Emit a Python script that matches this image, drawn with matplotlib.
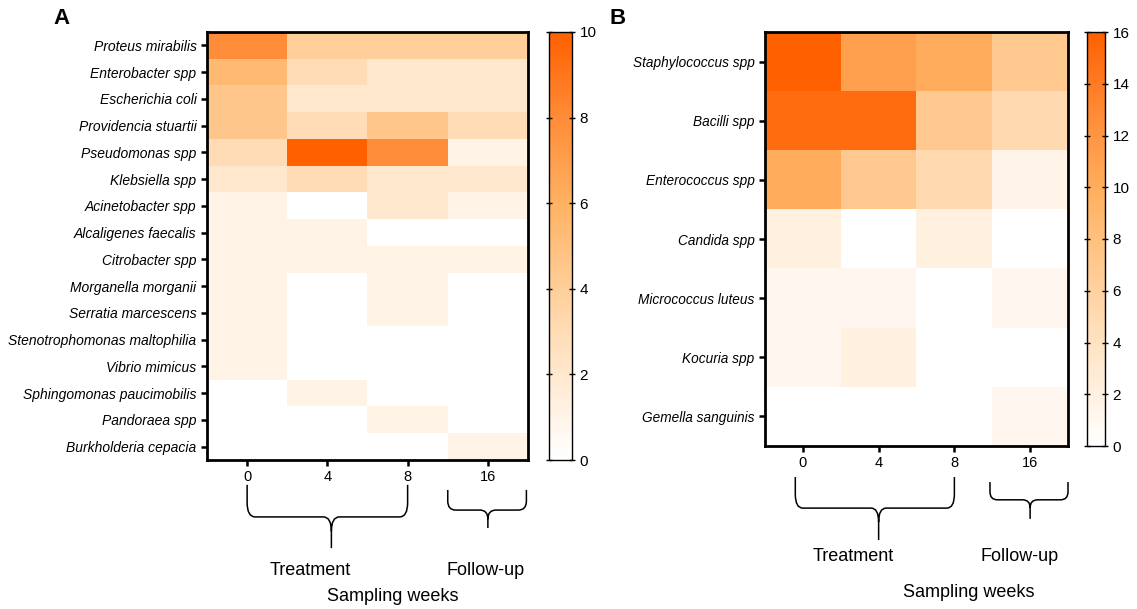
import numpy as np
import matplotlib
matplotlib.use("Agg")
import matplotlib.pyplot as plt
from matplotlib.colors import LinearSegmentedColormap
from matplotlib.path import Path
from matplotlib.patches import PathPatch
import matplotlib.transforms as mtransforms

plt.rcParams["font.family"] = ["Liberation Sans", "DejaVu Sans"]

weeks = ["0", "4", "8", "16"]

# ---------- panel A data ----------
species_a = ["Proteus mirabilis", "Enterobacter spp", "Escherichia coli",
             "Providencia stuartii", "Pseudomonas spp", "Klebsiella spp",
             "Acinetobacter spp", "Alcaligenes faecalis", "Citrobacter spp",
             "Morganella morganii", "Serratia marcescens",
             "Stenotrophomonas maltophilia", "Vibrio mimicus",
             "Sphingomonas paucimobilis", "Pandoraea spp", "Burkholderia cepacia"]
counts_a = np.array([
    [8, 4, 4, 4],
    [5.5, 3, 2, 2],
    [4.5, 2, 2, 2],
    [4.5, 3, 4.5, 3],
    [3, 10, 8, 1],
    [2, 3, 2, 2],
    [1, 0, 2, 1],
    [1, 1, 0, 0],
    [1, 1, 1, 1],
    [1, 0, 1, 0],
    [1, 0, 1, 0],
    [1, 0, 0, 0],
    [1, 0, 0, 0],
    [0, 1, 0, 0],
    [0, 0, 1, 0],
    [0, 0, 0, 1],
])

# ---------- panel B data ----------
species_b = ["Staphylococcus spp", "Bacilli spp", "Enterococcus spp",
             "Candida spp", "Micrococcus luteus", "Kocuria spp",
             "Gemella sanguinis"]
counts_b = np.array([
    [16, 11, 10, 7],
    [15, 15, 7, 5],
    [10, 7, 5, 1.5],
    [2, 0, 2, 0],
    [1, 1, 0, 1],
    [1, 2, 0, 0],
    [0, 0, 0, 1],
])

cmap = LinearSegmentedColormap.from_list(
    "wo", [(0, "#ffffff"), (0.3, "#ffdcb5"), (0.6, "#ffb262"),
           (0.8, "#ff8c38"), (1, "#ff6000")])


def brace(ax, x0, x1, xm, ytop, ybar, ytip):
    # curly bracket drawn under the x axis (x in data units, y in axes units)
    tr = mtransforms.blended_transform_factory(ax.transData, ax.transAxes)
    r = (ytop - ybar) * 0.45
    dx = 0.1
    verts = [(x0, ytop), (x0, ybar + r), (x0, ybar), (x0 + dx, ybar),
             (xm - dx, ybar), (xm, ybar), (xm, ybar - r), (xm, ytip),
             (xm, ybar - r), (xm, ybar), (xm + dx, ybar),
             (x1 - dx, ybar), (x1, ybar), (x1, ybar + r), (x1, ytop)]
    codes = [Path.MOVETO, Path.LINETO, Path.CURVE3, Path.CURVE3,
             Path.LINETO, Path.CURVE3, Path.CURVE3, Path.LINETO,
             Path.MOVETO, Path.CURVE3, Path.CURVE3,
             Path.LINETO, Path.CURVE3, Path.CURVE3, Path.LINETO]
    ax.add_patch(PathPatch(Path(verts, codes), fill=False, lw=1.1,
                           color="black", transform=tr, clip_on=False))


def heat(ax, cax, data, names, vmax, ticks, fs):
    im = ax.imshow(data, cmap=cmap, vmin=0, vmax=vmax, aspect="auto",
                   interpolation="nearest")
    ax.set_xticks(range(len(weeks)))
    ax.set_xticklabels(weeks, fontsize=10.5)
    ax.set_yticks(range(len(names)))
    ax.set_yticklabels(names, fontsize=fs, style="italic")
    ax.tick_params(axis="both", length=4, width=1.8, color="black")
    for s in ax.spines.values():
        s.set_linewidth(2)
    cb = plt.colorbar(im, cax=cax, ticks=ticks)
    cb.outline.set_linewidth(1)
    cax.tick_params(labelsize=11, length=4, width=1, direction="inout",
                    left=True, right=True)
    return im


fig = plt.figure(figsize=(11.37, 6.09), dpi=100)
W, H = 1137, 609

def box(x0, y0, x1, y1):
    return [x0 / W, 1 - y1 / H, (x1 - x0) / W, (y1 - y0) / H]

ax_a = fig.add_axes(box(207, 32, 528, 460))
cax_a = fig.add_axes(box(549, 32, 572, 460))
ax_b = fig.add_axes(box(765, 32, 1068, 446))
cax_b = fig.add_axes(box(1087, 32, 1105, 446))

heat(ax_a, cax_a, counts_a, species_a, 10, range(0, 11, 2), 10)
heat(ax_b, cax_b, counts_b, species_b, 16, range(0, 17, 2), 9.8)

# braces and group labels
brace(ax_a, 0, 2, 1.05, -0.058, -0.133, -0.206)
brace(ax_a, 2.5, 3.48, 3.0, -0.07, -0.117, -0.159)
tra = mtransforms.blended_transform_factory(ax_a.transData, ax_a.transAxes)
ax_a.text(0.79, -0.258, "Treatment", transform=tra, ha="center", va="center", fontsize=13)
ax_a.text(2.97, -0.258, "Follow-up", transform=tra, ha="center", va="center", fontsize=13)
ax_a.text(1.82, -0.32, "Sampling weeks", transform=tra, ha="center", va="center", fontsize=13)

brace(ax_b, -0.1, 2.0, 1.0, -0.075, -0.15, -0.227)
brace(ax_b, 2.47, 3.5, 3.0, -0.087, -0.13, -0.176)
trb = mtransforms.blended_transform_factory(ax_b.transData, ax_b.transAxes)
ax_b.text(0.67, -0.268, "Treatment", transform=trb, ha="center", va="center", fontsize=13)
ax_b.text(2.86, -0.268, "Follow-up", transform=trb, ha="center", va="center", fontsize=13)
ax_b.text(2.19, -0.355, "Sampling weeks", transform=trb, ha="center", va="center", fontsize=13)

fig.text(62 / W, 1 - 18 / H, "A", fontsize=16, fontweight="bold", ha="center", va="center")
fig.text(618 / W, 1 - 18 / H, "B", fontsize=16, fontweight="bold", ha="center", va="center")

fig.savefig("out.png", dpi=100)
